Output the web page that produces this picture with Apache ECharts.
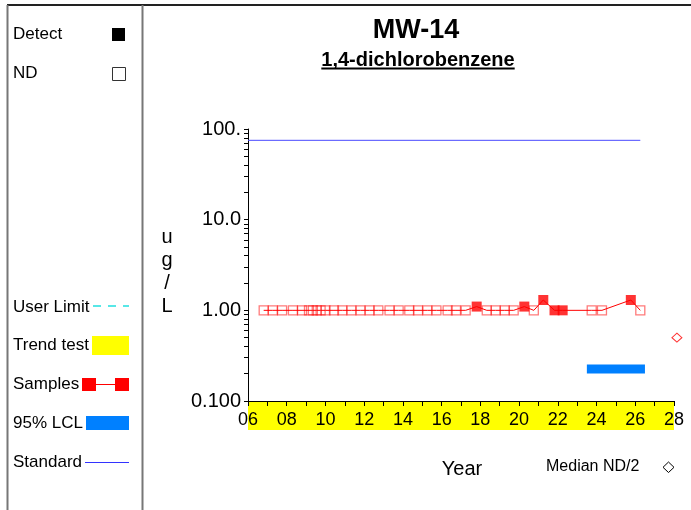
<!DOCTYPE html>
<html>
<head>
<meta charset="utf-8">
<script src="https://cdn.jsdelivr.net/npm/echarts@6/dist/echarts.min.js"></script>
<style>
html,body{margin:0;padding:0;background:#fff;}
#chart{width:691px;height:510px;}
</style>
</head>
<body>
<div id="chart"></div>
<script>
// ---- data ----
const sampleYears = [2006.81, 2007.28, 2007.76, 2008.32, 2008.79, 2009.15, 2009.35, 2009.55, 2009.75, 2010.0, 2010.44, 2010.87, 2011.34, 2011.81, 2012.28, 2012.73, 2013.31, 2013.78, 2014.33, 2014.78, 2015.26, 2015.73, 2016.31, 2016.74, 2017.24, 2017.81, 2018.33, 2018.79, 2019.26, 2019.72, 2020.27, 2020.76, 2021.25, 2021.83, 2022.25, 2023.75, 2024.28, 2025.77, 2026.26];
const sampleValues = [1,1,1,1,1,1,1,1,1,1,1,1,1,1,1,1,1,1,1,1,1,1,1,1,1,1.1,1,1,1,1,1.1,1,1.3,1,1,1,1,1.3,1];
const sampleDetect = [0,0,0,0,0,0,0,0,0,0,0,0,0,0,0,0,0,0,0,0,0,0,0,0,0,1,0,0,0,0,1,0,1,1,1,0,0,1,0];
const standardValue = 75;
const standardYears = [2006, 2026.26];
const lclValue = 0.225;
const lclYears = [2023.5, 2026.5];
const medianNDHalf = [[2028.15, 0.5]];
const trendYears = [2006, 2028];
const yTickLabels = {0.1: '0.100', 1: '1.00', 10: '10.0', 100: '100.'};
const yMinorTicks = [0.1,0.2,0.3,0.4,0.5,0.6,0.7,0.8,0.9,1,2,3,4,5,6,7,8,9,10,20,30,40,50,60,70,80,90,100];

const FONT = "'Liberation Sans', Arial, sans-serif";
const allPts = sampleYears.map((y, i) => [y, sampleValues[i]]);
const ndPts = allPts.filter((p, i) => !sampleDetect[i]);
const detPts = allPts.filter((p, i) => sampleDetect[i]);

// measure subtitle width for underline
const cv = document.createElement('canvas').getContext('2d');
cv.font = "bold 20px " + FONT;
const subW = cv.measureText('1,4-dichlorobenzene').width;

const chart = echarts.init(document.getElementById('chart'), null, {renderer: 'canvas'});

const legendText = (t, y) => ({type: 'text', left: 13, top: y - 8, style: {text: t, font: '17px ' + FONT, fill: '#000'}});

function yLabel(v) {
  const k = Math.round(Math.log10(v));
  return yTickLabels[Math.pow(10, k).toFixed(k < 0 ? 1 : 0)] || yTickLabels[+Math.pow(10, k).toFixed(1)] || '';
}

chart.setOption({
  animation: false,
  backgroundColor: '#fff',
  grid: [
    {left: 248, right: 17, top: 129, height: 272},
    {left: 248, right: 17, top: 401, height: 29}
  ],
  xAxis: [
    {type: 'value', gridIndex: 0, min: 2006, max: 2028, interval: 1,
     axisLine: {lineStyle: {color: '#000', width: 1}},
     axisTick: {show: true, length: 5, lineStyle: {color: '#000'}},
     axisLabel: {color: '#000', fontSize: 18, fontFamily: FONT, margin: 10,
       showMaxLabel: true, showMinLabel: true,
       formatter: v => (Math.round(v) % 2 === 0 ? String(Math.round(v) % 100).padStart(2, '0') : '')},
     splitLine: {show: false}},
    {type: 'value', gridIndex: 1, min: 2006, max: 2028, show: false}
  ],
  yAxis: [
    {type: 'log', gridIndex: 0, logBase: 10, min: 0.1, max: 100,
     axisLine: {show: true, lineStyle: {color: '#000', width: 1}},
     axisTick: {show: true, length: 4, lineStyle: {color: '#000'}, customValues: yMinorTicks},
     axisLabel: {color: '#000', fontSize: 20, fontFamily: FONT, margin: 7,
       customValues: [0.1, 1, 10, 100],
       formatter: yLabel},
     splitLine: {show: false}},
    {type: 'value', gridIndex: 1, min: 0, max: 1, show: false}
  ],
  series: [
    {type: 'line', xAxisIndex: 1, yAxisIndex: 1, z: -5, silent: true,
     data: trendYears.map(y => [y, 1]), symbol: 'none',
     lineStyle: {width: 0}, areaStyle: {color: '#ffff00', opacity: 1}},
    {type: 'line', data: standardYears.map(y => [y, standardValue]), symbol: 'none',
     lineStyle: {color: '#4a4aff', width: 1}},
    {type: 'line', data: lclYears.map(y => [y, lclValue]), symbol: 'none',
     lineStyle: {color: '#0080ff', width: 9, cap: 'butt'}},
    {type: 'line', data: allPts, symbol: 'none', lineStyle: {color: '#ff0000', width: 1}},
    {type: 'scatter', data: ndPts, symbol: 'rect', symbolSize: 9,
     itemStyle: {color: 'rgba(255,255,255,0)', borderColor: 'rgba(255,0,0,0.65)', borderWidth: 1.3}},
    {type: 'scatter', data: detPts, symbol: 'rect', symbolSize: 10,
     itemStyle: {color: '#ff0000'}},
    {type: 'scatter', data: medianNDHalf, symbol: 'diamond', symbolSize: [10, 9], clip: false,
     itemStyle: {color: '#fff', borderColor: '#ff0000', borderWidth: 1}}
  ],
  graphic: [
    // panel borders
    {type: 'line', shape: {x1: 7, y1: 5, x2: 691, y2: 5}, style: {stroke: '#222', lineWidth: 2}},
    {type: 'line', shape: {x1: 7.5, y1: 5, x2: 7.5, y2: 510}, style: {stroke: '#777', lineWidth: 2}},
    {type: 'line', shape: {x1: 142.5, y1: 5, x2: 142.5, y2: 510}, style: {stroke: '#777', lineWidth: 2}},
    // left legend
    legendText('Detect', 34),
    {type: 'rect', shape: {x: 112, y: 28, width: 13, height: 13}, style: {fill: '#000'}},
    legendText('ND', 73),
    {type: 'rect', shape: {x: 112.5, y: 67.5, width: 13, height: 13}, style: {fill: '#fff', stroke: '#333', lineWidth: 1}},
    legendText('User Limit', 307),
    {type: 'line', shape: {x1: 93, y1: 306, x2: 129, y2: 306}, style: {stroke: '#22e0e0', lineWidth: 1.5, lineDash: [8, 7]}},
    legendText('Trend test', 345),
    {type: 'rect', shape: {x: 92, y: 336, width: 37, height: 19}, style: {fill: '#ffff00'}},
    legendText('Samples', 384),
    {type: 'line', shape: {x1: 90, y1: 384.5, x2: 122, y2: 384.5}, style: {stroke: '#ff0000', lineWidth: 1}},
    {type: 'rect', shape: {x: 82, y: 378, width: 14, height: 13}, style: {fill: '#ff0000'}},
    {type: 'rect', shape: {x: 115, y: 378, width: 14, height: 13}, style: {fill: '#ff0000'}},
    legendText('95% LCL', 423),
    {type: 'rect', shape: {x: 86, y: 416, width: 43, height: 14}, style: {fill: '#0080ff'}},
    legendText('Standard', 462),
    {type: 'line', shape: {x1: 85, y1: 462.5, x2: 129, y2: 462.5}, style: {stroke: '#3333ff', lineWidth: 1}},
    // titles
    {type: 'text', x: 416, y: 31, style: {text: 'MW-14', font: 'bold 27px ' + FONT, fill: '#000', textAlign: 'center', textVerticalAlign: 'middle'}},
    {type: 'text', x: 418, y: 60, style: {text: '1,4-dichlorobenzene', font: 'bold 20px ' + FONT, fill: '#000', textAlign: 'center', textVerticalAlign: 'middle'}},
    {type: 'line', shape: {x1: 418 - subW / 2, y1: 68.5, x2: 418 + subW / 2, y2: 68.5}, style: {stroke: '#000', lineWidth: 2}},
    // y axis name
    {type: 'text', x: 167, y: 272, style: {text: 'u\ng\n/\nL', font: '20px ' + FONT, lineHeight: 23, fill: '#000', textAlign: 'center', textVerticalAlign: 'middle'}},
    // x axis name
    {type: 'text', x: 462, y: 469, style: {text: 'Year', font: '20px ' + FONT, fill: '#000', textAlign: 'center', textVerticalAlign: 'middle'}},
    // median ND/2 legend
    {type: 'text', x: 546, y: 467, style: {text: 'Median ND/2', font: '16px ' + FONT, fill: '#000', textAlign: 'left', textVerticalAlign: 'middle'}},
    {type: 'polygon', shape: {points: [[668.5, 462], [674, 467.3], [668.5, 472.5], [663, 467.3]]}, style: {fill: '#fff', stroke: '#000', lineWidth: 1}}
  ]
});
</script>
</body>
</html>
